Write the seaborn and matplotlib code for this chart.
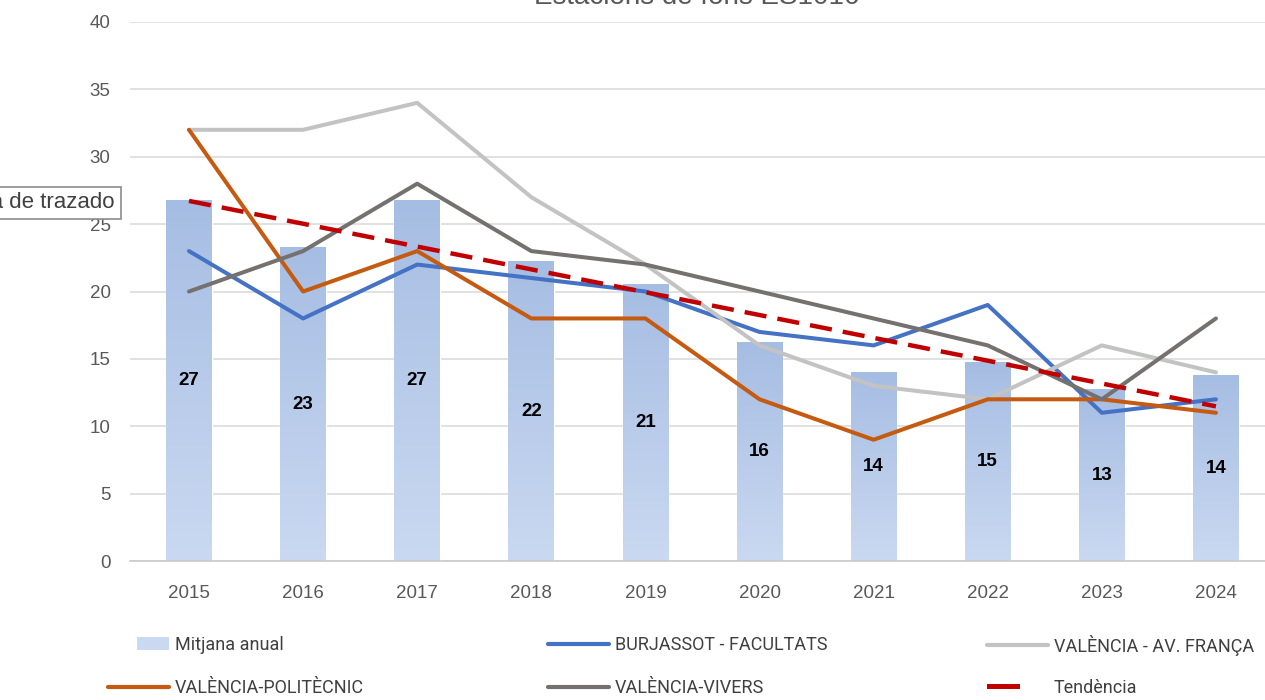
# Estacions de fons - evolució anual amb mitjana i tendència
import numpy as np
import pandas as pd
import matplotlib.pyplot as plt
import seaborn as sns
from matplotlib.colors import LinearSegmentedColormap
from matplotlib.patches import Patch, Rectangle
from matplotlib.lines import Line2D
from matplotlib.legend_handler import HandlerPatch

# Dades
years = [2015, 2016, 2017, 2018, 2019, 2020, 2021, 2022, 2023, 2024]
burjassot = [23, 18, 22, 21, 20, 17, 16, 19, 11, 12]
av_franca = [32, 32, 34, 27, 22, 16, 13, 12, 16, 14]
politecnic = [32, 20, 23, 18, 18, 12, 9, 12, 12, 11]
vivers = [20, 23, 28, 23, 22, 20, 18, 16, 12, 18]
mitjana = [26.75, 23.25, 26.75, 22.25, 20.5, 16.25, 14.0, 14.75, 12.75, 13.75]
mitjana_labels = ["27", "23", "27", "22", "21", "16", "14", "15", "13", "14"]

stations = ["BURJASSOT - FACULTATS", "VALÈNCIA - AV. FRANÇA",
            "VALÈNCIA-POLITÈCNIC", "VALÈNCIA-VIVERS"]
colors = {"BURJASSOT - FACULTATS": "#4472C4",
          "VALÈNCIA - AV. FRANÇA": "#C3C3C3",
          "VALÈNCIA-POLITÈCNIC": "#C55A11",
          "VALÈNCIA-VIVERS": "#757171"}
trend_color = "#C00000"
bar_top = "#A6BDE3"
bar_bottom = "#CAD9F1"
text_gray = "#595959"

sns.set_style("white")
plt.rcParams['font.family'] = ['Liberation Sans', 'DejaVu Sans']

fig = plt.figure(figsize=(12.65, 7), dpi=100)
ax = fig.add_axes([130 / 1265, 139 / 700, 1135 / 1265, 539 / 700])

# Barres de la mitjana anual
bars_df = pd.DataFrame({"Any": years, "Mitjana": mitjana})
sns.barplot(data=bars_df, x="Any", y="Mitjana", native_scale=True,
            width=0.4, color=bar_top, ax=ax, zorder=2)

ax.bar_label(ax.containers[0], labels=mitjana_labels, label_type="center",
             fontsize=13.5, fontweight="bold", color="black")

# degradat dins de cada barra
cmap = LinearSegmentedColormap.from_list("bars", [bar_bottom, bar_top])
grad = np.linspace(0, 1, 256).reshape(-1, 1)
for p in list(ax.patches):
    x0, w, h = p.get_x(), p.get_width(), p.get_height()
    ax.imshow(grad, extent=[x0, x0 + w, 0, h], origin="lower", cmap=cmap,
              aspect="auto", zorder=2, interpolation="bicubic")
    p.set_facecolor("none")

# Línies per estació
long_df = pd.DataFrame({
    "Any": years * 4,
    "Valor": burjassot + av_franca + politecnic + vivers,
    "Estació": [s for s in stations for _ in years],
})
sns.lineplot(data=long_df, x="Any", y="Valor", hue="Estació",
             palette=colors, linewidth=2.9, legend=False, ax=ax, zorder=4)

# Tendència
sns.regplot(x=years, y=mitjana, scatter=False, ci=None, ax=ax,
            line_kws=dict(color=trend_color, lw=3.2, dashes=(5, 2.5), zorder=5))

# Eixos
ax.set_xlim(2014.483, 2024.43)
ax.set_ylim(0, 40)
ax.set_yticks(range(0, 41, 5))
ax.set_xticks(years)
ax.set_xlabel("")
ax.set_ylabel("")
ax.grid(axis="y", color="#D9D9D9", lw=1.1, zorder=0)
ax.set_axisbelow(True)
for s in ["top", "right", "left"]:
    ax.spines[s].set_visible(False)
ax.spines["bottom"].set_color("#C8C8C8")
ax.spines["bottom"].set_linewidth(1.1)
ax.tick_params(length=0, labelsize=13.5, labelcolor=text_gray)
ax.tick_params(axis="y", pad=14)
ax.tick_params(axis="x", pad=17)

# Títol (retallat a dalt)
fig.text(697 / 1265, 1 - 4 / 700, "Estacions de fons ES1016", ha="center",
         va="baseline", fontsize=20, color=text_gray)

# Etiqueta "Área de trazado"
fig.text(115 / 1265, 1 - 203 / 700, "Área de trazado", ha="right", va="center",
         fontsize=16, color="#404040",
         bbox=dict(boxstyle="square,pad=0.25", fc="white", ec="#8C8C8C", lw=1.2))


# handles curts com a l'original
def short_box(legend, orig_handle, xdescent, ydescent, width, height, fontsize):
    return Rectangle((-xdescent + 0.47 * width, -ydescent), 0.53 * width, height)


def short_bar(legend, orig_handle, xdescent, ydescent, width, height, fontsize):
    return Rectangle((-xdescent, -ydescent + height / 2 - 1.8), 0.53 * width, 3.6)


mitjana_handle = Patch(facecolor=bar_bottom, edgecolor="none")
trend_handle = Patch(facecolor=trend_color, edgecolor="none")

# llegenda: tres columnes i dues files
leg_items = [
    (mitjana_handle, "Mitjana anual", 108, 645),
    (Line2D([], [], color=colors["BURJASSOT - FACULTATS"], lw=3), "BURJASSOT - FACULTATS", 548, 645),
    (Line2D([], [], color=colors["VALÈNCIA - AV. FRANÇA"], lw=3), "VALÈNCIA - AV. FRANÇA", 987, 645),
    (Line2D([], [], color=colors["VALÈNCIA-POLITÈCNIC"], lw=3), "VALÈNCIA-POLITÈCNIC", 108, 688),
    (Line2D([], [], color=colors["VALÈNCIA-VIVERS"], lw=3), "VALÈNCIA-VIVERS", 548, 688),
    (trend_handle, "Tendència", 987, 688),
]
for handle, label, lx, ly in leg_items:
    fig.legend([handle], [label],
               loc="center left", bbox_to_anchor=(lx / 1265, 1 - ly / 700),
               frameon=False, handlelength=3.4,
               handletextpad=0.3, borderpad=0, borderaxespad=0,
               prop={"family": ["Roboto", "DejaVu Sans"], "size": 13},
               labelcolor="#404040",
               handler_map={mitjana_handle: HandlerPatch(patch_func=short_box),
                            trend_handle: HandlerPatch(patch_func=short_bar)})

fig.savefig("out.png", dpi=100)
